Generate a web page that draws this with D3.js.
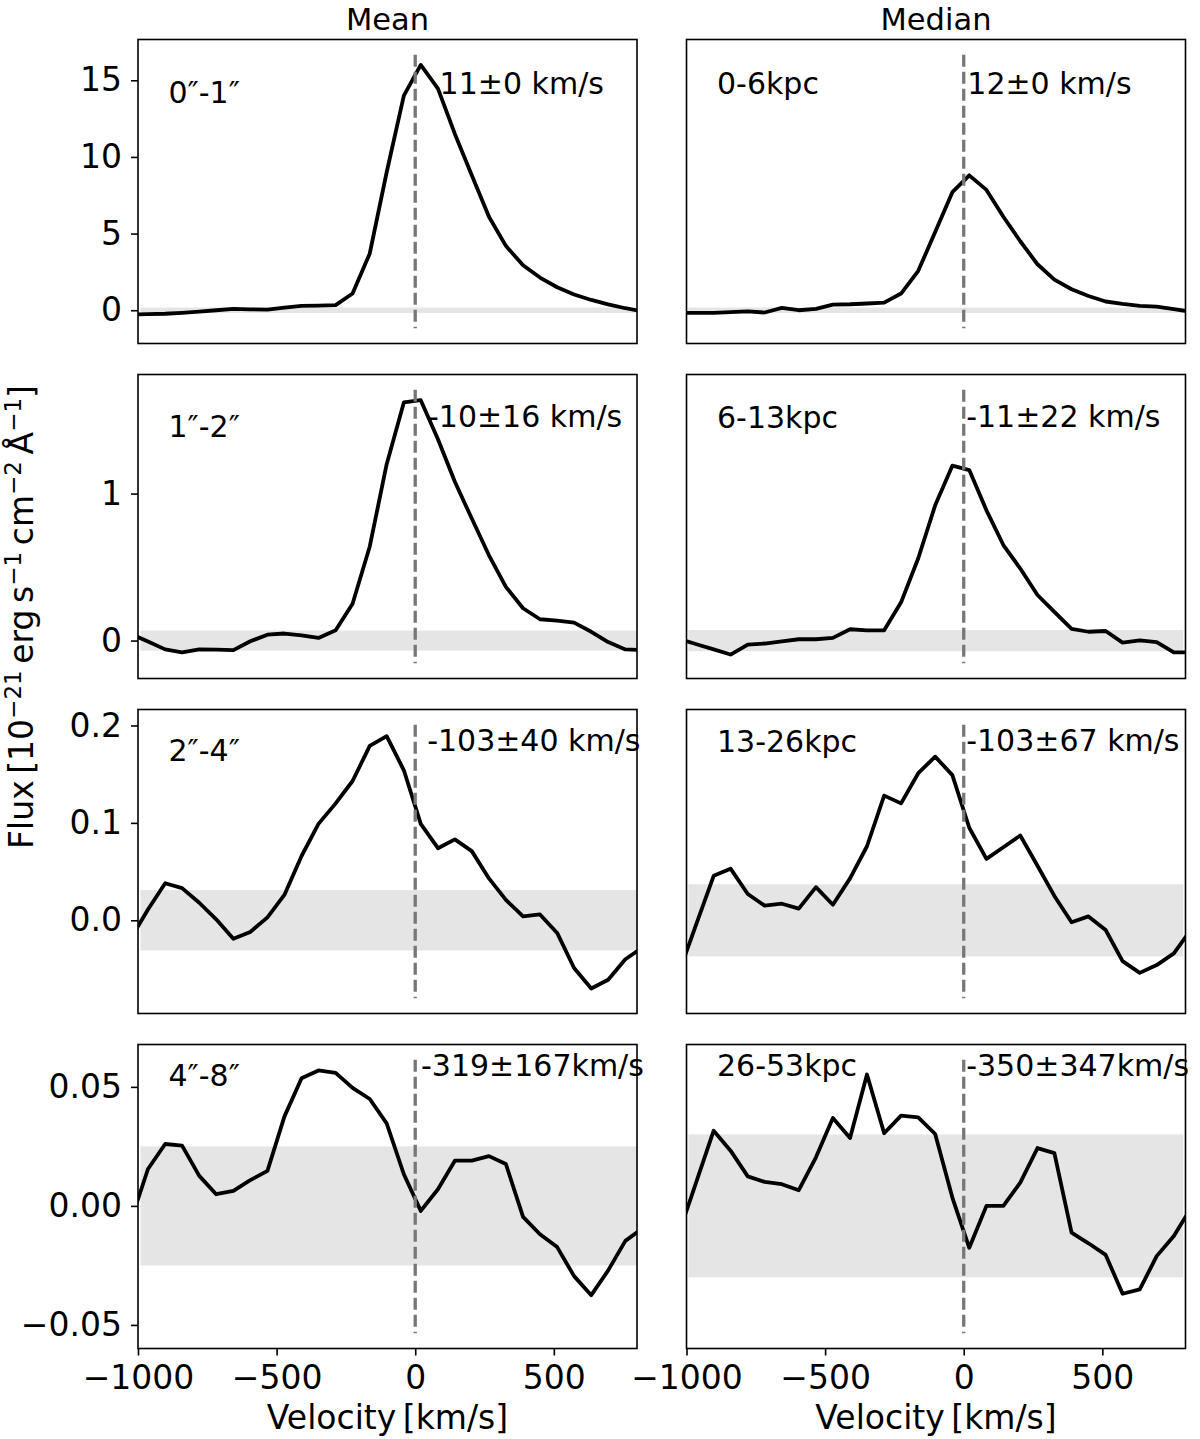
<!DOCTYPE html>
<html>
<head>
<meta charset="utf-8">
<script src="https://cdn.jsdelivr.net/npm/d3@7"></script>
<style>
  body { margin: 0; background: #fff; }
  svg { font-family: "DejaVu Sans", sans-serif; }
</style>
</head>
<body>
<div id="chart"></div>
<script>
// velocity grid (km/s) shared by every spectrum
const velocity = [-1025, -964, -902, -841, -779, -718, -656, -595, -533, -472, -410, -349, -287, -226, -164, -103,
  -41, 20, 82, 143, 204, 266, 327, 389, 450, 512, 573, 635, 696, 758, 819];

// mean stacks, one per radial bin
const meanFlux1 = [-0.28, -0.26, -0.23, -0.17, -0.09, 0.0, 0.09, 0.06, 0.04, 0.17, 0.28, 0.30, 0.33, 1.09, 3.7, 9.0,
  14.0, 16.0, 14.46, 11.5, 8.8, 6.1, 4.2, 2.93, 2.13, 1.5, 1.03, 0.67, 0.38, 0.13, -0.07];
const meanFlux2 = [0.045, -0.007, -0.06, -0.08, -0.06, -0.062, -0.065, -0.005, 0.04, 0.048, 0.036, 0.018, 0.07, 0.25,
  0.64, 1.2, 1.62, 1.635, 1.37, 1.08, 0.83, 0.58, 0.365, 0.22, 0.145, 0.135, 0.122, 0.06, -0.01, -0.06, -0.065];
const meanFlux3 = [-0.018, 0.011, 0.038, 0.033, 0.018, 0.001, -0.019, -0.012, 0.003, 0.026, 0.066, 0.099, 0.12,
  0.143, 0.179, 0.189, 0.154, 0.099, 0.074, 0.083, 0.071, 0.043, 0.021, 0.004, 0.006, -0.013, -0.049, -0.07,
  -0.061, -0.04, -0.028];
const meanFlux4 = [-0.006, 0.0155, 0.026, 0.0253, 0.0126, 0.0049, 0.0063, 0.0108, 0.0147, 0.0375, 0.0536, 0.0569,
  0.0559, 0.0496, 0.0449, 0.0347, 0.0133, -0.0021, 0.007, 0.019, 0.019, 0.0209, 0.0176, -0.0046, -0.0119, -0.0173,
  -0.0295, -0.0375, -0.0271, -0.0147, -0.0095];

// median stacks
const medianFlux1 = [-0.18, -0.17, -0.17, -0.13, -0.07, -0.15, 0.15, 0.0, 0.09, 0.37, 0.39, 0.44, 0.5, 1.09, 2.57,
  5.1, 7.7, 8.8, 7.85, 6.1, 4.5, 3.0, 2.0, 1.37, 0.93, 0.57, 0.41, 0.28, 0.24, 0.08, -0.1];
const medianFlux2 = [0.01, -0.025, -0.06, -0.095, -0.027, -0.02, -0.005, 0.009, 0.009, 0.018, 0.077, 0.07, 0.07,
  0.26, 0.56, 0.92, 1.19, 1.16, 0.886, 0.65, 0.49, 0.31, 0.195, 0.08, 0.06, 0.065, -0.014, 0.002, -0.01, -0.08, -0.08];
const medianFlux3 = [-0.052, -0.0035, 0.0456, 0.053, 0.027, 0.015, 0.017, 0.012, 0.034, 0.016, 0.043, 0.076, 0.128,
  0.12, 0.151, 0.168, 0.149, 0.095, 0.063, 0.075, 0.087, 0.056, 0.025, -0.002, 0.004, -0.01, -0.042, -0.054,
  -0.046, -0.034, -0.01];
const medianFlux4 = [-0.0107, 0.0103, 0.0316, 0.0232, 0.0124, 0.0101, 0.0091, 0.0066, 0.0204, 0.0369, 0.0285,
  0.0552, 0.0305, 0.0379, 0.0372, 0.0302, 0.0035, -0.0176, 0.0, 0.0, 0.0098, 0.0243, 0.0222, -0.0112, -0.0157,
  -0.0206, -0.0369, -0.0351, -0.0211, -0.0126, -0.001];

// 1-sigma noise level of each stack
const meanSigma = [0.176, 0.068, 0.031, 0.025];
const medianSigma = [0.176, 0.072, 0.037, 0.030];

// bin labels and fitted centroid velocities
const meanBins = ["0\u2033-1\u2033", "1\u2033-2\u2033", "2\u2033-4\u2033", "4\u2033-8\u2033"];
const medianBins = ["0-6kpc", "6-13kpc", "13-26kpc", "26-53kpc"];
const meanShift = ["11\u00b10 km/s", "-10\u00b116 km/s", "-103\u00b140 km/s", "-319\u00b1167km/s"];
const medianShift = ["12\u00b10 km/s", "-11\u00b122 km/s", "-103\u00b167 km/s", "-350\u00b1347km/s"];

// axis ticks
const yTicks = [[0, 5, 10, 15], [0, 1], [0, 0.1, 0.2], [-0.05, 0, 0.05]];
const yTickLabels = [["0", "5", "10", "15"], ["0", "1"], ["0.0", "0.1", "0.2"], ["\u22120.05", "0.00", "0.05"]];
const yLimits = [[-2.17, 17.66], [-0.258, 1.81], [-0.0957, 0.2164], [-0.0599, 0.0678]];
const xTicks = [-1000, -500, 0, 500];
const xTickLabels = ["\u22121000", "\u2212500", "0", "500"];

// layout
const W = 1200, H = 1439;
const colLeft = [138, 686.5];
const panelW = 499;
const rowTop = [39.5, 374.5, 709.5, 1044.5];
const panelH = 304;

const svg = d3.select("#chart").append("svg")
  .attr("width", W)
  .attr("height", H);

const x = d3.scaleLinear().domain([-1000, 800]).range([0, panelW]);

const columns = [
  { title: "Mean", flux: [meanFlux1, meanFlux2, meanFlux3, meanFlux4], sigma: meanSigma,
    bins: meanBins, shift: meanShift, band: [-991, 800],
    binY: [63, 62, 51, 41], shiftX: [88, 46, 43, 21] },
  { title: "Median", flux: [medianFlux1, medianFlux2, medianFlux3, medianFlux4], sigma: medianSigma,
    bins: medianBins, shift: medianShift, band: [-993, 792],
    binY: [54, 53.5, 42, 31.5], shiftX: [13, 9, 9, 9] }
];
const shiftY = [54, 52.5, 41, 31];

columns.forEach(function (col, c) {
  // column title
  svg.append("text")
    .attr("x", colLeft[c] + panelW / 2)
    .attr("y", 29.5)
    .attr("text-anchor", "middle")
    .attr("font-size", 30.5)
    .text(col.title);

  col.flux.forEach(function (flux, r) {
    const y = d3.scaleLinear().domain(yLimits[r]).range([panelH, 0]);
    const g = svg.append("g").attr("transform", "translate(" + [colLeft[c], rowTop[r]] + ")");
    const clipId = "clip-" + c + "-" + r;

    g.append("clipPath").attr("id", clipId)
      .append("rect").attr("width", panelW).attr("height", panelH);

    const plot = g.append("g").attr("clip-path", "url(#" + clipId + ")");

    // noise band
    plot.append("rect")
      .attr("x", x(col.band[0]))
      .attr("width", x(col.band[1]) - x(col.band[0]))
      .attr("y", y(col.sigma[r]))
      .attr("height", y(-col.sigma[r]) - y(col.sigma[r]))
      .attr("fill", "#e5e5e5");

    // spectrum
    const line = d3.line()
      .x((d, i) => x(velocity[i]))
      .y((d) => y(d));

    plot.append("path")
      .datum(flux)
      .attr("d", line)
      .attr("fill", "none")
      .attr("stroke", "#000")
      .attr("stroke-width", 3.8)
      .attr("stroke-linejoin", "round");

    // zero velocity marker, 5%-95% of the axis height
    g.append("line")
      .attr("x1", x(0)).attr("x2", x(0))
      .attr("y1", panelH * 0.05).attr("y2", panelH * 0.95)
      .attr("stroke", "#777")
      .attr("stroke-width", 3.3)
      .attr("stroke-dasharray", "12,5");

    // texts
    g.append("text")
      .attr("x", x(-890))
      .attr("y", col.binY[r])
      .attr("font-size", 30)
      .text(col.bins[r]);

    g.append("text")
      .attr("x", x(col.shiftX[r]))
      .attr("y", shiftY[r])
      .attr("font-size", 30)
      .text(col.shift[r]);

    // axes
    if (c === 0) {
      const yAxis = d3.axisLeft(y)
        .tickValues(yTicks[r])
        .tickFormat((d, i) => yTickLabels[r][i])
        .tickSize(7)
        .tickPadding(9);
      const ya = g.append("g").call(yAxis);
      ya.select(".domain").remove();
      ya.selectAll("line").attr("stroke-width", 1.6);
      ya.selectAll("text").attr("font-size", 33).attr("font-family", "DejaVu Sans");
    }
    if (r === 3) {
      const xAxis = d3.axisBottom(x)
        .tickValues(xTicks)
        .tickFormat((d, i) => xTickLabels[i])
        .tickSize(7)
        .tickPadding(10);
      const xa = g.append("g").attr("transform", "translate(0," + panelH + ")").call(xAxis);
      xa.select(".domain").remove();
      xa.selectAll("line").attr("stroke-width", 1.6);
      xa.selectAll("text").attr("font-size", 33).attr("font-family", "DejaVu Sans");
    }

    // frame
    g.append("rect")
      .attr("width", panelW)
      .attr("height", panelH)
      .attr("fill", "none")
      .attr("stroke", "#000")
      .attr("stroke-width", 1.6);
  });

  // x label
  svg.append("text")
    .attr("x", colLeft[c] + panelW / 2)
    .attr("y", 1429)
    .attr("text-anchor", "middle")
    .attr("font-size", 33)
    .text("Velocity\u2009[km/s]");
});

// y label with superscripts
const ylab = svg.append("text")
  .attr("transform", "translate(33,617) rotate(-90)")
  .attr("text-anchor", "middle")
  .attr("font-size", 33);

const parts = [
  ["Flux\u2009[10", false], ["\u221221", true], ["\u2009erg\u2009s", false], ["\u22121", true],
  ["\u2009cm", false], ["\u22122", true], ["\u2009\u00c5", false], ["\u22121", true], ["]", false]
];
parts.forEach(function (p, i) {
  const t = ylab.append("tspan").text(p[0]);
  if (p[1]) {
    t.attr("font-size", 23).attr("dy", -12);
  } else if (i > 0) {
    t.attr("dy", 12);
  }
});
</script>
</body>
</html>
